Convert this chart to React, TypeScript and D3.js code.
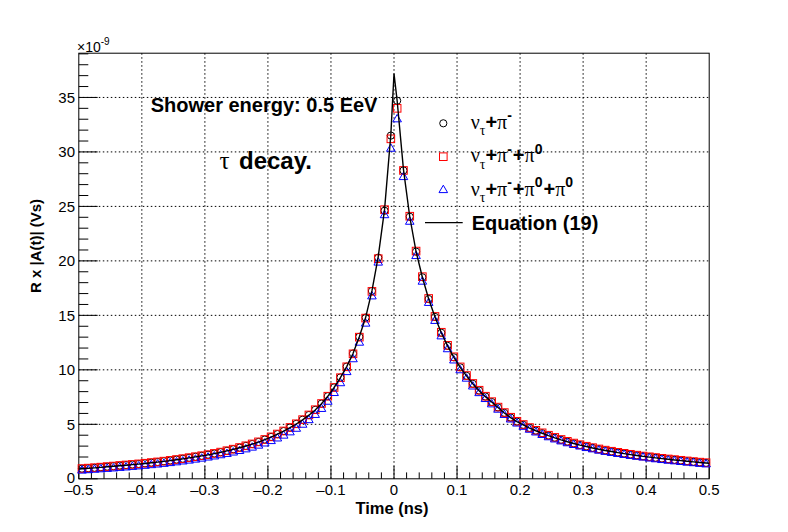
import React from 'react';
import * as d3 from 'd3';

// sampling times of the simulated pulses (ns), bin centres
const timeNs = d3.range(100).map((i) => +(-0.495 + i * 0.01).toFixed(3));

// nu_tau + pi-
const pionOnly = [
	0.93, 0.97, 1.01, 1.06, 1.11, 1.16, 1.21, 1.26, 1.31, 1.36,
	1.42, 1.48, 1.54, 1.61, 1.68, 1.76, 1.84, 1.93, 2.02, 2.11,
	2.21, 2.32, 2.44, 2.57, 2.71, 2.86, 3.02, 3.19, 3.38, 3.6,
	3.84, 4.1, 4.38, 4.7, 5.04, 5.42, 5.85, 6.33, 6.9, 7.58,
	8.39, 9.3, 10.3, 11.5, 13.03, 14.8, 17.24, 20.3, 24.6, 31.5,
	34.7, 28.3, 24.05, 20.85, 18.5, 16.5, 14.86, 13.4, 12.2, 11.15,
	10.23, 9.45, 8.72, 8.1, 7.55, 7.05, 6.55, 6.05, 5.62, 5.25,
	4.95, 4.67, 4.42, 4.19, 3.97, 3.77, 3.58, 3.41, 3.25, 3.1,
	2.97, 2.84, 2.72, 2.61, 2.51, 2.41, 2.32, 2.23, 2.15, 2.07,
	2.0, 1.93, 1.86, 1.8, 1.74, 1.68, 1.62, 1.56, 1.51, 1.46,
];

// nu_tau + pi- + pi0
const pionOnePi0 = [
	0.94, 0.98, 1.02, 1.07, 1.12, 1.17, 1.22, 1.27, 1.32, 1.37,
	1.43, 1.49, 1.55, 1.62, 1.69, 1.77, 1.85, 1.94, 2.03, 2.12,
	2.22, 2.33, 2.45, 2.58, 2.72, 2.87, 3.03, 3.2, 3.39, 3.61,
	3.85, 4.11, 4.39, 4.71, 5.05, 5.43, 5.86, 6.34, 6.91, 7.58,
	8.38, 9.28, 10.28, 11.47, 13.0, 14.75, 17.2, 20.2, 24.7, 31.2,
	34.0, 28.3, 24.1, 20.9, 18.55, 16.55, 14.9, 13.45, 12.25, 11.2,
	10.27, 9.48, 8.75, 8.13, 7.58, 7.08, 6.58, 6.08, 5.65, 5.28,
	4.98, 4.7, 4.45, 4.22, 4.0, 3.8, 3.61, 3.44, 3.28, 3.13,
	2.99, 2.86, 2.74, 2.63, 2.53, 2.43, 2.34, 2.25, 2.17, 2.09,
	2.02, 1.95, 1.88, 1.82, 1.76, 1.7, 1.64, 1.58, 1.53, 1.48,
];

// nu_tau + pi- + pi0 + pi0
const pionTwoPi0 = [
	0.76, 0.8, 0.84, 0.88, 0.92, 0.96, 1.01, 1.05, 1.1, 1.15,
	1.2, 1.26, 1.32, 1.38, 1.45, 1.52, 1.6, 1.68, 1.77, 1.86,
	1.96, 2.06, 2.17, 2.29, 2.42, 2.56, 2.71, 2.87, 3.05, 3.25,
	3.47, 3.71, 3.97, 4.27, 4.6, 4.97, 5.39, 5.87, 6.42, 7.08,
	7.88, 8.78, 9.8, 10.98, 12.5, 14.25, 16.75, 19.85, 24.2, 30.3,
	33.0, 27.7, 23.6, 20.45, 18.1, 16.15, 14.5, 13.08, 11.9, 10.87,
	9.97, 9.2, 8.48, 7.87, 7.33, 6.84, 6.35, 5.87, 5.45, 5.08,
	4.78, 4.51, 4.26, 4.03, 3.82, 3.62, 3.44, 3.27, 3.11, 2.97,
	2.83, 2.71, 2.59, 2.48, 2.38, 2.29, 2.2, 2.11, 2.03, 1.96,
	1.87, 1.8, 1.73, 1.67, 1.61, 1.55, 1.49, 1.44, 1.38, 1.33,
];

// Equation (19)
const eqTime = [-0.5, ...timeNs.slice(0, 50), 0, ...timeNs.slice(50), 0.5];
const eqValue = [
	0.9,
	0.92, 0.96, 1.0, 1.05, 1.1, 1.15, 1.2, 1.25, 1.3, 1.35,
	1.41, 1.47, 1.53, 1.6, 1.67, 1.75, 1.83, 1.92, 2.01, 2.1,
	2.2, 2.31, 2.43, 2.56, 2.7, 2.85, 3.01, 3.18, 3.37, 3.59,
	3.83, 4.09, 4.37, 4.69, 5.03, 5.41, 5.84, 6.32, 6.89, 7.57,
	8.38, 9.29, 10.3, 11.5, 13.03, 14.8, 17.24, 20.4, 24.7, 31.6,
	37.2,
	34.7, 28.4, 24.05, 20.85, 18.5, 16.5, 14.86, 13.4, 12.2, 11.15,
	10.22, 9.44, 8.71, 8.09, 7.54, 7.04, 6.54, 6.04, 5.61, 5.24,
	4.94, 4.66, 4.41, 4.18, 3.96, 3.76, 3.57, 3.4, 3.24, 3.09,
	2.96, 2.83, 2.71, 2.6, 2.5, 2.4, 2.31, 2.22, 2.14, 2.06,
	1.99, 1.92, 1.85, 1.79, 1.73, 1.67, 1.61, 1.55, 1.5, 1.45,
	1.43,
];

const xTicks = [-0.5, -0.4, -0.3, -0.2, -0.1, 0, 0.1, 0.2, 0.3, 0.4, 0.5];
const yTicks = [0, 5, 10, 15, 20, 25, 30, 35];

type Part = [string, 'g' | 'b' | 'sub' | 'sup'];
const legendLabels: Part[][] = [
	[['ν', 'g'], ['τ', 'sub'], ['+', 'b'], ['π', 'g'], ['-', 'sup']],
	[['ν', 'g'], ['τ', 'sub'], ['+', 'b'], ['π', 'g'], ['-', 'sup'], ['+', 'b'], ['π', 'g'], ['0', 'sup']],
	[
		['ν', 'g'], ['τ', 'sub'], ['+', 'b'], ['π', 'g'], ['-', 'sup'], ['+', 'b'], ['π', 'g'], ['0', 'sup'],
		['+', 'b'], ['π', 'g'], ['0', 'sup'],
	],
];

const W = 788;
const H = 532;
const m = { left: 78.8, right: 709.2, top: 53.2, bottom: 478.8 };
const SANS = '"Liberation Sans", Arial, Helvetica, sans-serif';
const SERIF = '"Liberation Serif", "Times New Roman", serif';

const triPath = 'M0,-4.8L4.3,2.6L-4.3,2.6Z';

function Marker({ kind, x, y }: { kind: number; x: number; y: number }) {
	if (kind === 0) return <circle cx={x} cy={y} r={3.6} fill="none" stroke="#000" strokeWidth={1} />;
	if (kind === 1)
		return <rect x={x - 3.8} y={y - 3.8} width={7.6} height={7.6} fill="none" stroke="#ff0000" strokeWidth={1} />;
	return <path d={triPath} transform={`translate(${x},${y})`} fill="none" stroke="#0000ff" strokeWidth={1} />;
}

function LatexLabel({ parts, x, y }: { parts: Part[]; x: number; y: number }) {
	let shift = 0;
	return (
		<text x={x} y={y} fontFamily={SANS} fontSize={20}>
			{parts.map(([t, k], i) => {
				const target = k === 'sub' ? 6.5 : k === 'sup' ? -8.5 : 0;
				const dy = target - shift;
				shift = target;
				const small = k === 'sub' || k === 'sup';
				return (
					<tspan
						key={i}
						dy={dy}
						dx={k === 'b' && i > 0 && parts[i - 1][1] === 'sup' ? 1 : 0}
						fontSize={small ? 14 : 20}
						fontFamily={k === 'g' || k === 'sub' ? SERIF : SANS}
						fontWeight={k === 'g' || k === 'sub' ? 'normal' : 'bold'}
					>
						{t}
					</tspan>
				);
			})}
		</text>
	);
}

export default function App() {
	const x = d3.scaleLinear().domain([-0.5, 0.5]).range([m.left, m.right]);
	const y = d3.scaleLinear().domain([0, 39.06]).range([m.bottom, m.top]);

	const xMinor = d3.range(-0.5, 0.5001, 0.02);
	const yMinor = d3.range(0, 39.001, 1);

	const line = d3
		.line<number>()
		.x((_, i) => x(eqTime[i]))
		.y((d) => y(d));

	const series = [pionOnly, pionOnePi0, pionTwoPi0];
	const legendY = [123.3, 156.7, 190];
	const legendBase = [128.5, 162, 195.5];

	return (
		<svg width={W} height={H} style={{ position: 'absolute', left: 0, top: 0, background: '#fff' }}>
			<rect width={W} height={H} fill="#fff" />

			{/* grid */}
			<g stroke="#000" strokeWidth={1} strokeDasharray="1.5 2.5">
				{xTicks.slice(1, -1).map((t) => (
					<line key={'gx' + t} x1={x(t)} x2={x(t)} y1={m.top} y2={m.bottom} />
				))}
				{yTicks.slice(1).map((v) => (
					<line key={'gy' + v} x1={m.left} x2={m.right} y1={y(v)} y2={y(v)} />
				))}
			</g>

			{/* frame */}
			<rect
				x={m.left}
				y={m.top}
				width={m.right - m.left}
				height={m.bottom - m.top}
				fill="none"
				stroke="#000"
				strokeWidth={1}
			/>

			{/* ticks */}
			<g stroke="#000" strokeWidth={1}>
				{xMinor.map((t, i) => (
					<line key={'xt' + i} x1={x(t)} x2={x(t)} y1={m.bottom} y2={m.bottom - (i % 5 === 0 ? 12.8 : 6.4)} />
				))}
				{yMinor.map((v, i) => (
					<line key={'yt' + i} x1={m.left} x2={m.left + (i % 5 === 0 ? 18.9 : 9.5)} y1={y(v)} y2={y(v)} />
				))}
			</g>

			{/* tick labels */}
			<g fontFamily={SANS} fontSize={15} fill="#000">
				{xTicks.map((t) => (
					<text key={'xl' + t} x={x(t)} y={494.5} textAnchor="middle">
						{t < 0 ? '\u2013' + d3.format('.1f')(-t) : t === 0 ? '0' : d3.format('.1f')(t)}
					</text>
				))}
				{yTicks.map((v) => (
					<text key={'yl' + v} x={75} y={y(v) + (v === 0 ? 4.5 : 5.3)} textAnchor="end">
						{v}
					</text>
				))}
			</g>
			<text x={77} y={51.7} fontFamily={SANS} fontSize={14}>
				×10
				<tspan dy={-6.5} fontSize={10}>
					-9
				</tspan>
			</text>

			{/* axis titles */}
			<text x={392} y={513.5} textAnchor="middle" fontFamily={SANS} fontWeight="bold" fontSize={16.5}>
				Time (ns)
			</text>
			<text
				transform="translate(40.5,246) rotate(-90)"
				textAnchor="middle"
				fontFamily={SANS}
				fontWeight="bold"
				fontSize={15}
			>
				R x |A(t)| (Vs)
			</text>

			{/* data markers */}
			{series.map((vals, k) => (
				<g key={'s' + k}>
					{vals.map((v, i) => (
						<Marker key={i} kind={k} x={x(timeNs[i])} y={y(v)} />
					))}
				</g>
			))}

			{/* Equation (19) */}
			<path d={line(eqValue) ?? ''} fill="none" stroke="#000" strokeWidth={1.4} />

			{/* annotations */}
			<text x={150.7} y={112} fontFamily={SANS} fontWeight="bold" fontSize={20}>
				Shower energy: 0.5 EeV
			</text>
			<text x={219.5} y={168.5} fontFamily={SERIF} fontSize={25}>
				τ
			</text>
			<text x={239} y={168.5} fontFamily={SANS} fontWeight="bold" fontSize={24}>
				decay.
			</text>

			{/* legend */}
			{legendLabels.map((parts, k) => (
				<g key={'lg' + k}>
					<Marker kind={k} x={443.3} y={legendY[k]} />
					<LatexLabel parts={parts} x={470.7} y={legendBase[k]} />
				</g>
			))}
			<line x1={425} x2={462.7} y1={222.7} y2={222.7} stroke="#000" strokeWidth={1.2} />
			<text x={471.7} y={230} fontFamily={SANS} fontWeight="bold" fontSize={20}>
				Equation (19)
			</text>
		</svg>
	);
}
